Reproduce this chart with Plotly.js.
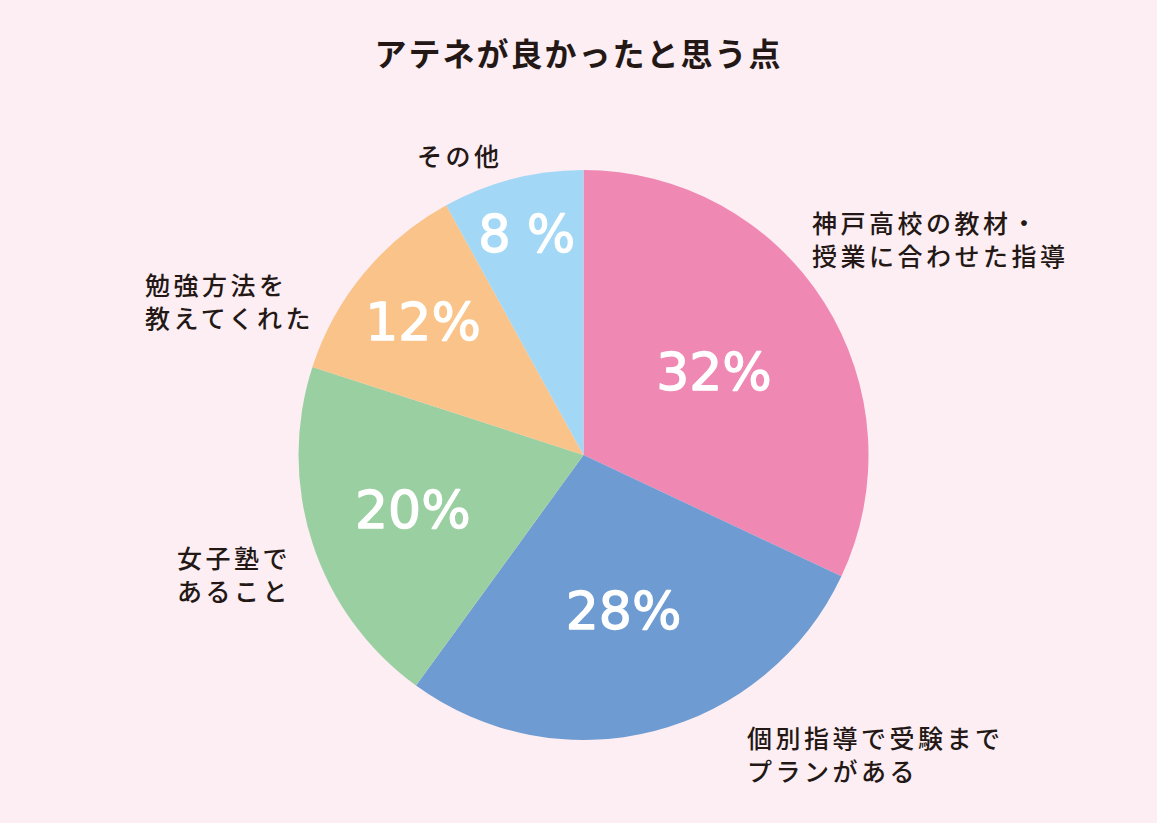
<!DOCTYPE html>
<html>
<head>
<meta charset="utf-8">
<script src="https://cdn.plot.ly/plotly-3.0.1.min.js"></script>
<style>
  html, body { margin: 0; padding: 0; background: #fdeef3; }
  #chart { width: 1157px; height: 823px; }
  .annotation-text { letter-spacing: 3.5px; }
  .gtitle { letter-spacing: 2px; }
  .slicetext { stroke: #ffffff; stroke-width: 1.3px; }
</style>
</head>
<body>
<div id="chart"></div>
<script>
'use strict';

// Data.
var categories = [
  '神戸高校の教材・<br>授業に合わせた指導',
  '個別指導で受験まで<br>プランがある',
  '女子塾で<br>あること',
  '勉強方法を<br>教えてくれた',
  'その他'
];
var shares = [32, 28, 20, 12, 8];
var shareLabels = ['32%', '28%', '20%', '12%', '8 %'];
var colors = ['#ef88b3', '#6e9bd1', '#9acfa1', '#f9c389', '#a2d8f6'];

// Outside label placement, pixels in the 1157x823 frame (left edge, vertical middle).
var labelSpots = [
  [810, 238],
  [745, 753],
  [175, 573],
  [143, 300],
  [415, 155]
];

var W = 1157, H = 823;
var ink = '#231815';
var jp = '"Noto Sans CJK JP", "Noto Sans", sans-serif';

var trace = {
  type: 'pie',
  values: shares,
  labels: categories,
  text: shareLabels,
  textinfo: 'text',
  textposition: 'inside',
  insidetextorientation: 'horizontal',
  insidetextfont: { family: '"DejaVu Sans", sans-serif', size: 52, color: '#ffffff' },
  sort: false,
  direction: 'clockwise',
  rotation: 0,
  marker: { colors: colors, line: { width: 0 } },
  domain: { x: [298 / W, 869 / W], y: [1 - 740 / H, 1 - 170 / H] },
  hoverinfo: 'label+percent'
};

var annotations = categories.map(function (c, i) {
  return {
    text: c,
    xref: 'paper', yref: 'paper',
    x: labelSpots[i][0] / W,
    y: 1 - labelSpots[i][1] / H,
    xanchor: 'left', yanchor: 'middle',
    align: 'left',
    showarrow: false,
    font: { family: jp, size: 25, color: ink, weight: 500 }
  };
});

var layout = {
  width: W,
  height: H,
  margin: { l: 0, r: 0, t: 0, b: 0 },
  paper_bgcolor: '#fdeef3',
  plot_bgcolor: '#fdeef3',
  showlegend: false,
  title: {
    text: 'アテネが良かったと思う点',
    x: 0.5, xanchor: 'center',
    y: 1 - 55 / H, yanchor: 'middle',
    font: { family: jp, size: 32, color: ink, weight: 700 }
  },
  annotations: annotations
};

Plotly.newPlot('chart', [trace], layout, { displayModeBar: false, staticPlot: true });
</script>
</body>
</html>
